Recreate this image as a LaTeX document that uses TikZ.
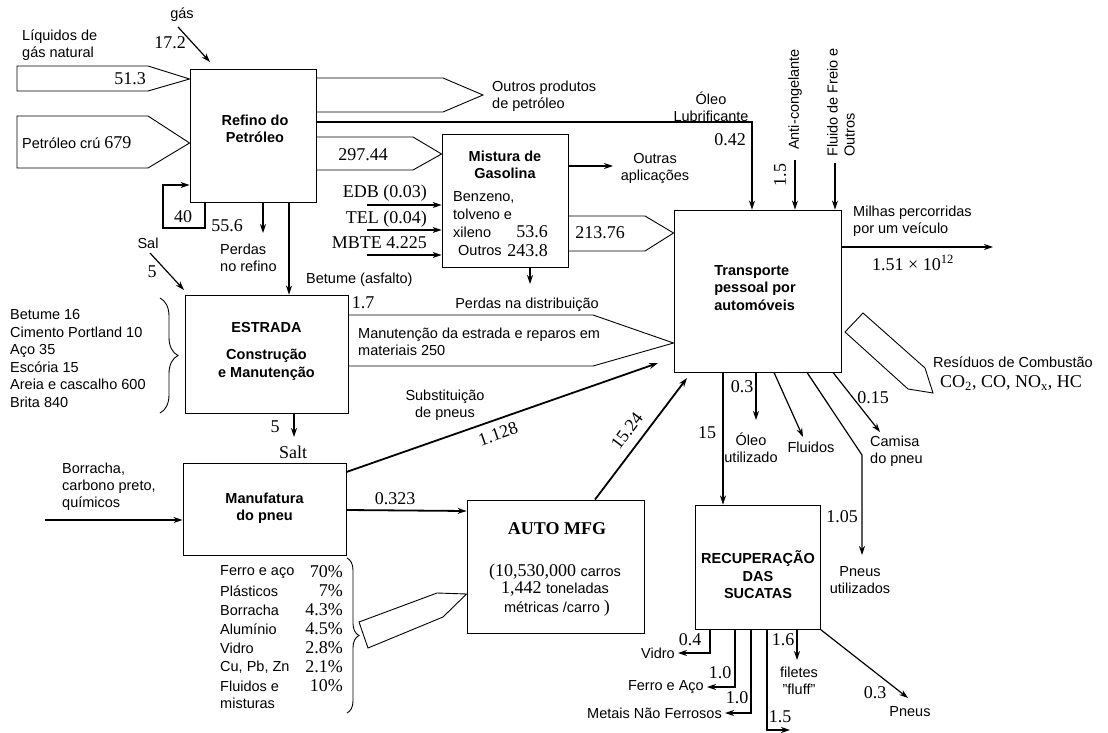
\documentclass[tikz,border=0pt]{standalone}
\usepackage{fontspec}
\setmainfont{Liberation Serif}
\setsansfont{Liberation Sans}
\usetikzlibrary{arrows.meta,decorations.pathreplacing}

\begin{document}
\begin{tikzpicture}[x=1pt,y=-1pt]
	\tikzset{box/.style={draw,line width=0.9pt,inner sep=0pt}}
	\tikzset{txt/.style={font=\fontsize{14.5}{17}\selectfont\sffamily,inner sep=0pt,align=left}}
	\tikzset{btxt/.style={font=\fontsize{14.5}{17.5}\selectfont\sffamily\bfseries,inner sep=0pt,align=center}}
	\tikzset{num/.style={font=\fontsize{18}{20}\selectfont,inner sep=0pt}}
	\tikzset{flow/.style={line width=1.2pt,-{Stealth[length=9pt,width=6pt]}}}
	\tikzset{main/.style={flow,line width=1.8pt}}
	\tikzset{fat/.style={draw,line width=0.9pt,line join=miter}}
	\useasboundingbox (0,0) rectangle (1108,733);

	\node[box,minimum width=126pt,minimum height=133pt] (refino) at (253,135.5) {};
	\node[btxt] (refinotxt) at (255,129) {Refino do\\Petróleo};
	\node[box,minimum width=126pt,minimum height=133pt] (mistura) at (505,200.5) {};
	\node[btxt] (misturatxt) at (505,165) {Mistura de\\Gasolina};
	\node[box,minimum width=167pt,minimum height=162pt] (transporte) at (757.5,291) {};
	\node[btxt,align=left] (transportetxt) at (755,288) {Transporte\\pessoal por\\automóveis};
	\node[box,minimum width=163pt,minimum height=118pt] (estrada) at (266.5,354) {};
	\node[btxt] (estradatxt) at (266.5,351) {ESTRADA\\[10pt]Construção\\e Manutenção};
	\node[box,minimum width=163pt,minimum height=92pt] (manuf) at (264.5,509) {};
	\node[btxt] (manuftxt) at (264.5,508) {Manufatura\\do pneu};
	\node[box,minimum width=177pt,minimum height=133pt] (auto) at (555.5,566.5) {};
	\node[num,font=\fontsize{18}{20}\selectfont\bfseries] (autotxt) at (557,529) {AUTO MFG};
	\node[box,minimum width=125pt,minimum height=124pt] (recup) at (757.5,567) {};
	\node[btxt] (recuptxt) at (758,575) {RECUPERAÇÃO\\DAS\\SUCATAS};

	\draw[fat] (17,66) -- (148,66) -- (refino.west |- 0,79) -- (148,91) -- (17,91) -- cycle;
	\draw[fat] (17,116) -- (148,116) -- (refino.west |- 0,143) -- (148,168) -- (17,168) -- cycle;
	\draw[fat] (refino.east |- 0,78) -- (443,78) -- (483,95) -- (443,112) -- (refino.east |- 0,112);
	\draw[fat] (refino.east |- 0,137) -- (413,137) -- (mistura.west |- 0,154) -- (413,170) -- (refino.east |- 0,170);
	\draw[fat] (mistura.east |- 0,216) -- (645,216) -- (transporte.west |- 0,233) -- (645,251) -- (mistura.east |- 0,251);
	\draw[fat] (estrada.east |- 0,315) -- (593,315) -- (transporte.west |- 0,343) -- (593,366) -- (estrada.east |- 0,366);
	\draw[fat] (845,332) -- (863,313) -- (925,368) -- (933,393) -- (908,389) -- cycle;
	\draw[fat] (359,622) -- (437,593) -- (auto.west |- 0,594) -- (443,617) -- (368,648) -- cycle;

	\coordinate (gas) at (178,27);
	\coordinate (sal) at (150,253);
	\coordinate (borr) at (45,520);
	\coordinate (edb) at (367,205);
	\coordinate (tel) at (367,230);
	\coordinate (mbte) at (367,255);
	\coordinate (anti) at (795,160);
	\coordinate (freio) at (835,163);
	\draw[flow] (gas) -- (210,62);
	\draw[flow] (refino.south -| 205,0) -- (205,228) -| (163,185) -- (refino.west |- 0,185);
	\draw[flow] (refino.south -| 263,0) -- (263,233);
	\draw[flow] (refino.south -| 289,0) -- (estrada.north -| 289,0);
	\draw[flow] (refino.east |- 0,122) -| (transporte.north -| 752,0);
	\draw[flow] (edb) -- (mistura.west |- edb);
	\draw[flow] (tel) -- (mistura.west |- tel);
	\draw[flow] (mbte) -- (mistura.west |- mbte);
	\draw[flow] (mistura.east |- 0,166) -- (613,166);
	\draw[flow] (mistura.south -| 530,0) -- (530,284);
	\draw[flow] (anti) -- (transporte.north -| anti);
	\draw[flow] (freio) -- (transporte.north -| freio);
	\draw[flow] (transporte.east |- 0,247) -- (993,247);
	\draw[flow] (sal) -- (184,290);
	\draw[flow] (estrada.south -| 294,0) -- (294,437);
	\draw[flow] (borr) -- (manuf.west |- borr);
	\draw[main] (manuf.east |- 0,510) -- (auto.west |- 0,511);
	\draw[main] (manuf.north east |- 0,472) -- (658,363);
	\draw[main] (auto.north -| 595,0) -- (687,378);
	\draw[main] (transporte.south -| 723,0) -- (recup.north -| 723,0);
	\draw[flow] (transporte.south -| 756,0) -- (756,420);
	\draw[flow] (transporte.south -| 774,0) -- (803,437);
	\draw[flow] (transporte.south -| 807,0) -- (862,455) -- (862,555);
	\draw[flow] (transporte.south -| 833,0) -- (880,432);
	\draw[flow] (recup.south -| 710,0) |- (678,653);
	\draw[flow] (recup.south -| 735,0) |- (707,687);
	\draw[flow] (recup.south -| 751,0) |- (725,713);
	\draw[flow] (recup.south -| 767,0) |- (790,730);
	\draw[flow] (recup.south -| 797,0) -- (797,660);
	\draw[flow] (recup.south east) -- (908,698);

	\draw[line width=0.9pt,decorate,decoration={brace,amplitude=18pt}] (160,298) -- (160,413);
	\draw[line width=0.9pt,decorate,decoration={brace,amplitude=12pt}] (347,558) -- (347,713);

	\node[txt] (gastxt) at (182,15) {gás};
	\node[num] (n172) at (170,43) {17.2};
	\node[txt,anchor=west] (liq) at (22,45) {Líquidos de\\gás natural};
	\node[num] (n513) at (130,79) {51.3};
	\node[txt,anchor=west] (petr) at (22,143) {Petróleo crú {\rmfamily\fontsize{18}{20}\selectfont 679}};
	\node[num] (n40) at (183,217) {40};
	\node[num] (n556) at (227,226) {55.6};
	\node[txt,anchor=west] (perdas) at (220,258) {Perdas\\no refino};
	\node[txt] (saltxt) at (148,243) {Sal};
	\node[num] (n5a) at (152,272) {5};
	\node[txt,anchor=west] (betume) at (306,280) {Betume (asfalto)};
	\node[txt,anchor=west] (outros) at (492,96) {Outros produtos\\de petróleo};
	\node[num] (n29744) at (363,155) {297.44};
	\node[num,anchor=east] (edbtxt) at (427,193) {EDB (0.03)};
	\node[num,anchor=east] (teltxt) at (427,219) {TEL (0.04)};
	\node[num,anchor=east] (mbtetxt) at (427,243) {MBTE 4.225};
	\node[txt,anchor=west] (benz) at (453,197) {Benzeno,};
	\node[txt,anchor=west] (tolv) at (453,214) {tolveno e};
	\node[txt,anchor=west] (xil) at (453,232) {xileno};
	\node[num,anchor=east] (n536) at (548,232) {53.6};
	\node[txt,anchor=west] (outr) at (458,251) {Outros};
	\node[num,anchor=east] (n2438) at (548,251) {243.8};
	\node[txt,align=center] (outap) at (655,168) {Outras\\aplicações};
	\node[txt,align=center] (oleo) at (711,107) {Óleo\\Lubrificante};
	\node[num] (n042) at (730,140) {0.42};
	\node[num] (n21376) at (600,233) {213.76};
	\node[num,rotate=90] (n15a) at (780,175) {1.5};
	\node[txt,rotate=90,anchor=west] (antitxt) at (anti |- 0,150) {Anti-congelante};
	\node[txt,rotate=90,anchor=west] (freiotxt) at (841,157) {Fluido de Freio e\\Outros};
	\node[txt,anchor=west] (milhas) at (853,221) {Milhas percorridas\\por um veículo};
	\node[num] (milhasn) at (913,263) {1.51 × 10\textsuperscript{12}};
	\node[txt,anchor=west] (resid) at (933,362) {Resíduos de Combustão};
	\node[num,anchor=west] (gases) at (940,383) {CO\textsubscript{2}, CO, NO\textsubscript{x}, HC};
	\node[txt,anchor=west,font=\fontsize{14.5}{17.5}\selectfont\sffamily] (mater) at (10,358.5) {Betume 16\\Cimento Portland 10\\Aço 35\\Escória 15\\Areia e cascalho 600\\Brita 840};
	\node[num] (n17) at (363,303) {1.7};
	\node[txt,anchor=west] (manut) at (358,342) {Manutenção da estrada e reparos em\\materiais 250};
	\node[txt] (perdasd) at (527,305) {Perdas na distribuição};
	\node[txt,align=center] (subst) at (445,405) {Substituição\\de pneus};
	\node[num,rotate=19.3] (n1128) at (498,434) {1.128};
	\node[num,rotate=53] (n1524) at (627,431) {15.24};
	\node[num] (n5b) at (275,427) {5};
	\node[num] (salt) at (293,452) {Salt};
	\node[txt,anchor=west] (borrtxt) at (62,487) {Borracha,\\carbono preto,\\químicos};
	\node[num] (n0323) at (395,499) {0.323};
	\node[num] (carros) at (555,572) {(10,530,000 {\sffamily\fontsize{14.5}{17}\selectfont carros}};
	\node[num] (tons) at (555,589) {1,442 {\sffamily\fontsize{14.5}{17}\selectfont toneladas}};
	\node[txt] (metr) at (557,608) {métricas /carro {\rmfamily\fontsize{18}{20}\selectfont)}};
	\foreach \nm/\pc [count=\i] in {Ferro e aço/70,Plásticos/7,Borracha/4.3,Alumínio/4.5,Vidro/2.8,{Cu, Pb, Zn}/2.1,Fluidos e/10}{
		\node[txt,anchor=west] (mat\i) at (220,553+19*\i) {\nm};
		\node[num,anchor=east] (pc\i) at (343,553+19*\i) {\pc\%};
	}
	\node[txt,anchor=west] (mistur) at (220,703) {misturas};
	\node[num] (n15) at (707,433) {15};
	\node[num] (n03a) at (742,387) {0.3};
	\node[txt,align=center] (oleou) at (751,448) {Óleo\\utilizado};
	\node[txt] (fluid) at (811,447) {Fluidos};
	\node[num] (n105) at (842,517) {1.05};
	\node[txt,align=center] (pneusu) at (860,580) {Pneus\\utilizados};
	\node[num] (n015) at (873,398) {0.15};
	\node[txt,anchor=west] (camisa) at (870,451) {Camisa\\do pneu};
	\node[num] (n04) at (690,640) {0.4};
	\node[txt,anchor=east] (vidro) at (675,653) {Vidro};
	\node[num] (n10a) at (720,673) {1.0};
	\node[txt,anchor=east] (ferro) at (704,687) {Ferro e Aço};
	\node[num] (n10b) at (737,698) {1.0};
	\node[txt,anchor=east] (metais) at (722,713) {Metais Não Ferrosos};
	\node[num] (n15b) at (780,717) {1.5};
	\node[num] (n16) at (783,640) {1.6};
	\node[txt,align=center] (fluff) at (799,681) {filetes\\"fluff"};
	\node[num] (n03b) at (875,693) {0.3};
	\node[txt] (pneus) at (910,712) {Pneus};
\end{tikzpicture}
\end{document}
